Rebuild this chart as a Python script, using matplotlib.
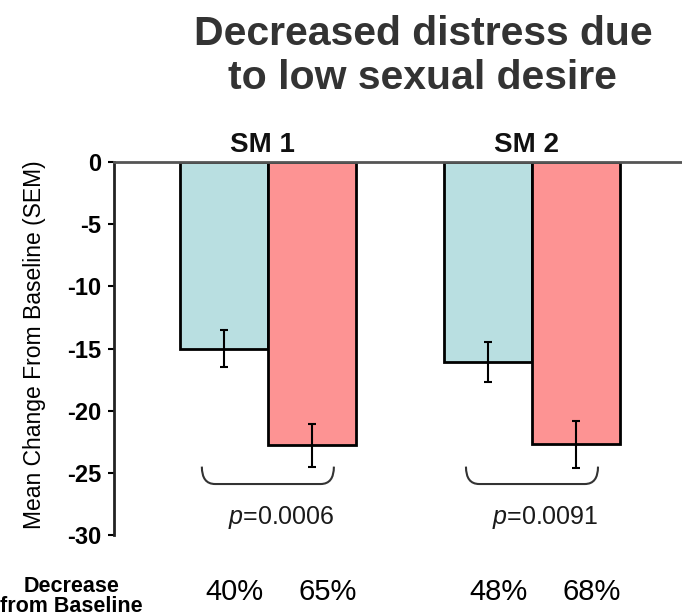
import matplotlib.pyplot as plt
from matplotlib.path import Path
from matplotlib.patches import PathPatch

plt.rcParams['font.family'] = ['Liberation Sans', 'DejaVu Sans']
plt.rcParams['mathtext.fontset'] = 'custom'
plt.rcParams['mathtext.it'] = 'Liberation Sans:italic'
plt.rcParams['mathtext.rm'] = 'Liberation Sans'

# ================================
# Data
# ================================
groups = ["SM 1", "SM 2"]
teal_vals = [-15.0, -16.1]
teal_err = [1.5, 1.6]
red_vals = [-22.8, -22.7]
red_err = [1.7, 1.9]
pct_teal = ["40%", "48%"]
pct_red = ["65%", "68%"]
p_values = ["0.0006", "0.0091"]
yticks = [0, -5, -10, -15, -20, -25, -30]

teal_color = "#b9dfe1"
red_color = "#fd9393"
width = 1 / 3

# ================================
# Figure
# ================================
fig = plt.figure(figsize=(6.82, 6.16), dpi=100)
ax = fig.add_axes([0.167, 0.1315, 0.833, 0.6055])

x = list(range(len(groups)))
x_teal = [g - width / 2 for g in x]
x_red = [g + width / 2 for g in x]

ax.bar(x_teal, teal_vals, width, color=teal_color, edgecolor="black", linewidth=2)
ax.bar(x_red, red_vals, width, color=red_color, edgecolor="black", linewidth=2)
ax.errorbar(x_teal, teal_vals, yerr=teal_err, fmt="none", ecolor="black",
            elinewidth=1.5, capsize=3, capthick=1.5)
ax.errorbar(x_red, red_vals, yerr=red_err, fmt="none", ecolor="black",
            elinewidth=1.5, capsize=3, capthick=1.5)

ax.set_xlim(-0.583, 1.568)
ax.set_ylim(-30, 0)
ax.set_yticks(yticks)
ax.set_yticklabels([str(t) for t in yticks], fontsize=17, fontweight="bold")
ax.set_xticks([])
ax.tick_params(axis="y", direction="out", length=4, width=1.5, pad=5)

for s in ["right", "bottom"]:
    ax.spines[s].set_visible(False)
ax.spines["left"].set_linewidth(2)
ax.spines["left"].set_color("#222222")
ax.spines["top"].set_linewidth(2)
ax.spines["top"].set_color("#555555")

# group labels above the bars
for g, name in zip(x, groups):
    ax.text(g - 0.02, 0.3, name, ha="center", va="bottom", fontsize=20,
            fontweight="bold", color="#111111")

# braces with p-values
brace_top = -24.5
brace_bot = -25.9
half = 0.25
for g, p in zip(x, p_values):
    x0, x1 = g - half, g + half
    verts = [(x0, brace_top), (x0, brace_bot), (x0 + 0.05, brace_bot),
             (x1 - 0.05, brace_bot),
             (x1, brace_bot), (x1, brace_top)]
    codes = [Path.MOVETO, Path.CURVE3, Path.CURVE3, Path.LINETO,
             Path.CURVE3, Path.CURVE3]
    ax.add_patch(PathPatch(Path(verts, codes), fill=False, edgecolor="#333333",
                           linewidth=1.5, clip_on=False))
    ax.text(g + 0.05, -28.6, "$p$=" + p, ha="center", va="center",
            fontsize=18, color="#1a1a1a")

# percent decrease row
for xt, xr, pt, pr in zip(x_teal, x_red, pct_teal, pct_red):
    ax.text(xt + 0.04, -34.6, pt, ha="center", va="center", fontsize=21,
            clip_on=False)
    ax.text(xr + 0.06, -34.6, pr, ha="center", va="center", fontsize=21,
            clip_on=False)

fig.text(0.105, 0.032, "Decrease\nfrom Baseline", ha="center", va="center",
         fontsize=15.5, fontweight="bold", linespacing=0.95)

fig.text(0.05, 0.44, "Mean Change From Baseline (SEM)", rotation=90,
         ha="center", va="center", fontsize=16.5)

fig.text(0.62, 0.975, "Decreased distress due\nto low sexual desire",
         ha="center", va="top", fontsize=29.5, fontweight="bold",
         color="#333333", linespacing=1.2)

fig.savefig("out.png", dpi=100)
